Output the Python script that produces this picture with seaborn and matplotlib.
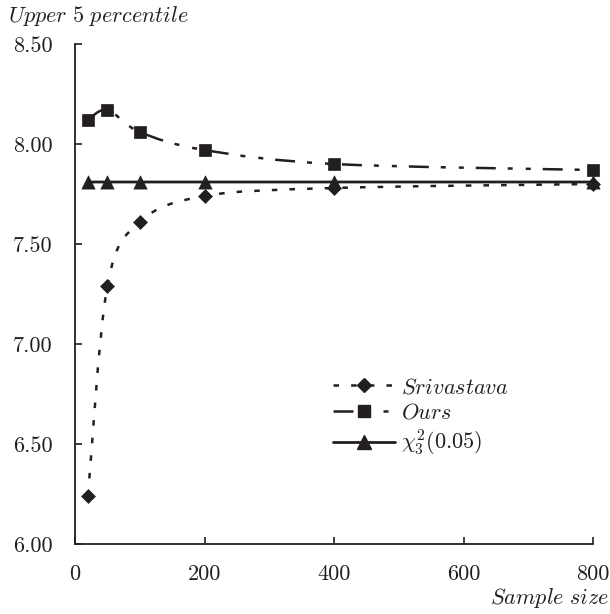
import numpy as np
import pandas as pd
import seaborn as sns
import matplotlib
matplotlib.use("Agg")
import matplotlib.pyplot as plt
from matplotlib.path import Path
from matplotlib.patches import PathPatch
from matplotlib.lines import Line2D

# ---- data ----
sample_sizes = [20, 50, 100, 200, 400, 800]
srivastava = [6.24, 7.29, 7.61, 7.74, 7.78, 7.80]
ours = [8.12, 8.17, 8.06, 7.97, 7.90, 7.87]
chi2_crit = [7.81, 7.81, 7.81, 7.81, 7.81, 7.81]
series_labels = [r"$\mathit{Srivastava}$", r"$\mathit{Ours}$", r"$\chi^2_3(0.05)$"]
x_ticks = [0, 200, 400, 600, 800]
y_ticks = [6.00, 6.50, 7.00, 7.50, 8.00, 8.50]
y_tick_labels = ["6.00", "6.50", "7.00", "7.50", "8.00", "8.50"]
y_title = r"$\mathit{Upper\ 5\ percentile}$"
x_title = r"$\mathit{Sample\ size}$"

sns.set_style("ticks")
plt.rcParams.update({
    "font.family": "serif",
    "font.serif": ["cmr10", "DejaVu Serif"],
    "mathtext.fontset": "cm",
    "axes.formatter.use_mathtext": True,
    "lines.scale_dashes": False,
    "axes.edgecolor": "#231f20",
    "axes.linewidth": 1.3,
})

INK = "#231f20"
FS = 16
fig = plt.figure(figsize=(6.10, 6.14), dpi=100)
ax = fig.add_axes([75 / 610, 1 - 544 / 614, (593 - 75) / 610, (544 - 44) / 614])


def smooth_path(xs, ys):
    P = np.column_stack([xs, ys]).astype(float)
    n = len(P)
    verts = [P[0]]
    codes = [Path.MOVETO]
    for i in range(n - 1):
        p0 = P[i - 1] if i > 0 else P[i]
        p1 = P[i]
        p2 = P[i + 1]
        p3 = P[i + 2] if i + 2 < n else P[i + 1]
        c1 = p1 + (p2 - p0) / 6.0
        c2 = p2 - (p3 - p1) / 6.0
        verts += [c1, c2, p2]
        codes += [Path.CURVE4] * 3
    return Path(verts, codes)


sri_dash = (0, (4.0, 8.7))
ours_dash = (0, (14.4, 8.6, 3.6, 9.4, 3.6, 8.6))

styles = [
    (srivastava, sri_dash, "D", 50, 1.8),
    (ours, ours_dash, "s", 75, 1.8),
    (chi2_crit, "-", "^", 90, 2.0),
]

df = pd.DataFrame({"n": sample_sizes})
handles = []
for (vals, ls, mk, ms, lw), lab in zip(styles, series_labels):
    patch = PathPatch(smooth_path(sample_sizes, vals), fill=False, edgecolor=INK,
                      linewidth=lw, linestyle=ls, capstyle="butt", zorder=2)
    ax.add_patch(patch)
    d = df.assign(v=vals)
    sns.scatterplot(data=d, x="n", y="v", marker=mk, s=ms, color=INK,
                    edgecolor=INK, linewidth=0.5, ax=ax, zorder=3, clip_on=False,
                    legend=False)
    handles.append(Line2D([], [], color=INK, linestyle=ls, linewidth=lw, marker=mk,
                          markersize=np.sqrt(ms), markerfacecolor=INK,
                          markeredgecolor=INK, label=lab))

ax.set_xlim(0, 800)
ax.set_ylim(6.0, 8.5)
ax.set_xticks(x_ticks)
ax.set_xticklabels([str(t) for t in x_ticks])
ax.set_yticks(y_ticks)
ax.set_yticklabels(y_tick_labels)
ax.set_xlabel("")
ax.set_ylabel("")
sns.despine(ax=ax)
ax.tick_params(direction="in", length=5, width=1.2, colors=INK, labelsize=FS,
               labelcolor=INK)
ax.tick_params(axis="y", pad=16)
ax.tick_params(axis="x", pad=15)

fig.text(8 / 610, 1 - 4 / 614, y_title, ha="left", va="top", fontsize=FS, color=INK)
fig.text(609 / 610, 1 - 586 / 614, x_title, ha="right", va="top", fontsize=FS, color=INK)

leg = ax.legend(handles=handles, loc="upper left",
                bbox_to_anchor=((333 - 75) / 518, (544 - 377) / 500),
                frameon=False, fontsize=FS, handlelength=2.8, handletextpad=0.25,
                labelspacing=0.25, borderpad=0, borderaxespad=0)
for t in leg.get_texts():
    t.set_color(INK)

fig.savefig("out.png", dpi=100)
